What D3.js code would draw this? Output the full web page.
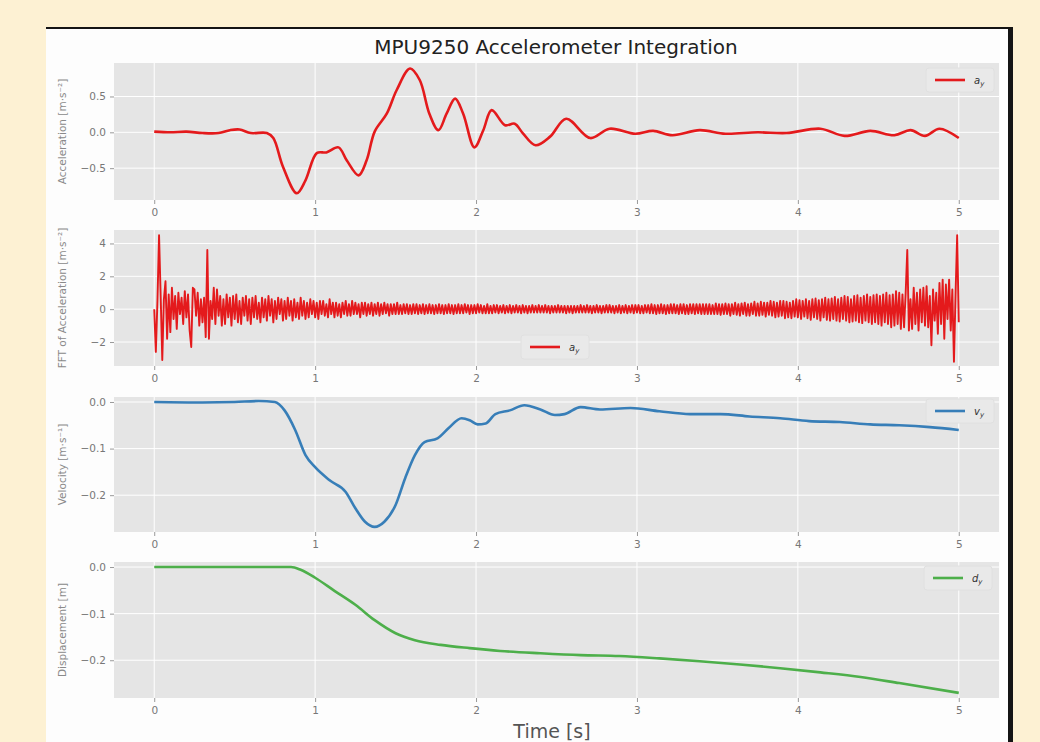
<!DOCTYPE html>
<html><head><meta charset="utf-8">
<script src="https://cdn.jsdelivr.net/npm/d3@7"></script>
<style>
html,body{margin:0;padding:0;background:#fdf1d3;}
svg{display:block;font-family:"DejaVu Sans",sans-serif;}
</style></head>
<body><svg id="c" width="1040" height="742"></svg>
<script>
// ---------- DATA ----------
const titleText = "MPU9250 Accelerometer Integration";
const xLabel = "Time [s]";
const xTicks = [0, 1, 2, 3, 4, 5];

const accTime = [0,0.1,0.2,0.3,0.4,0.47,0.53,0.6,0.7,0.74,0.80,0.886,0.94,1.01,1.07,1.145,1.196,1.27,1.32,1.37,1.445,1.507,1.59,1.65,1.71,1.766,1.817,1.87,1.92,1.99,2.045,2.097,2.18,2.24,2.29,2.37,2.46,2.56,2.71,2.83,2.99,3.1,3.22,3.39,3.55,3.75,3.93,4.14,4.29,4.45,4.6,4.7,4.79,4.88,5.0];
const accY = [0.01,0.0,0.01,-0.01,-0.01,0.03,0.04,-0.01,-0.01,-0.08,-0.48,-0.85,-0.67,-0.29,-0.28,-0.21,-0.39,-0.60,-0.39,0.01,0.26,0.59,0.89,0.73,0.26,0.03,0.26,0.47,0.26,-0.21,0.03,0.31,0.10,0.12,-0.01,-0.18,-0.06,0.19,-0.08,0.05,-0.02,0.02,-0.04,0.03,-0.02,0.0,-0.01,0.05,-0.05,0.02,-0.04,0.03,-0.05,0.05,-0.08];

const fftStep = 0.01;
const fftY = [
0.0,-2.6,0.5,4.5,0.8,-3.1,0.6,1.7,-1.8,0.9,
-1.4,1.3,-0.6,0.8,-1.2,1.0,-0.3,0.7,-0.9,1.1,
-0.5,0.9,-1.3,-2.3,1.3,1.2,-0.4,1.0,-1.0,0.6,
-0.8,0.7,-1.7,3.6,-1.8,0.5,-0.6,1.3,-0.9,1.2,
-0.4,0.8,-1.0,0.6,-0.9,0.9,-0.5,0.7,-1.0,0.8,
-0.6,0.9,-0.8,0.5,-0.9,0.7,-0.4,0.8,-0.7,0.6,
-0.9,0.7,-0.5,0.8,-0.6,0.4,-0.8,0.7,-0.5,0.6,
-0.7,0.8,-0.4,0.6,-0.8,0.5,-0.6,0.7,-0.3,0.6,
-0.7,0.5,-0.6,0.7,-0.4,0.5,-0.7,0.6,-0.5,0.4,
-0.6,0.7,-0.4,0.5,-0.6,0.4,-0.5,0.6,-0.3,0.5,
-0.5,0.4,-0.6,0.5,-0.3,0.5,-0.4,0.3,-0.5,0.6,
-0.3,0.4,-0.5,0.4,-0.4,0.3,-0.5,0.4,-0.3,0.5,
-0.4,0.3,-0.4,0.5,-0.3,0.4,-0.3,0.3,-0.5,0.4,
-0.3,0.4,-0.4,0.3,-0.3,0.4,-0.4,0.3,-0.3,0.4,
-0.4,0.3,-0.3,0.4,-0.25,0.3,-0.4,0.3,-0.3,0.3,
-0.3,0.4,-0.3,0.25,-0.3,0.3,-0.25,0.3,-0.3,0.25,
-0.3,0.3,-0.25,0.3,-0.3,0.25,-0.25,0.3,-0.3,0.25,
-0.25,0.3,-0.25,0.25,-0.3,0.25,-0.25,0.3,-0.25,0.25,
-0.3,0.25,-0.25,0.3,-0.25,0.25,-0.3,0.25,-0.25,0.3,
-0.25,0.25,-0.25,0.3,-0.2,0.25,-0.3,0.25,-0.25,0.25,
-0.25,0.3,-0.2,0.25,-0.25,0.2,-0.25,0.3,-0.25,0.2,
-0.25,0.25,-0.2,0.25,-0.25,0.2,-0.2,0.25,-0.25,0.2,
-0.2,0.25,-0.25,0.2,-0.2,0.25,-0.2,0.2,-0.25,0.25,
-0.2,0.2,-0.25,0.2,-0.2,0.25,-0.2,0.2,-0.2,0.25,
-0.2,0.2,-0.2,0.25,-0.2,0.2,-0.25,0.2,-0.2,0.2,
-0.2,0.25,-0.2,0.2,-0.2,0.2,-0.25,0.2,-0.2,0.2,
-0.25,0.2,-0.2,0.2,-0.2,0.25,-0.2,0.2,-0.2,0.25,
-0.2,0.2,-0.25,0.2,-0.2,0.25,-0.2,0.2,-0.25,0.2,
-0.2,0.25,-0.2,0.25,-0.2,0.2,-0.25,0.2,-0.2,0.25,
-0.25,0.2,-0.2,0.25,-0.25,0.2,-0.2,0.25,-0.25,0.25,
-0.2,0.25,-0.25,0.2,-0.25,0.25,-0.2,0.25,-0.25,0.3,
-0.25,0.25,-0.3,0.25,-0.25,0.3,-0.25,0.25,-0.3,0.25,
-0.25,0.3,-0.25,0.3,-0.25,0.25,-0.3,0.3,-0.25,0.3,
-0.3,0.25,-0.3,0.3,-0.25,0.3,-0.3,0.3,-0.25,0.3,
-0.3,0.3,-0.3,0.3,-0.3,0.3,-0.3,0.25,-0.3,0.35,
-0.3,0.3,-0.35,0.3,-0.3,0.35,-0.3,0.3,-0.4,0.3,
-0.3,0.4,-0.35,0.3,-0.4,0.35,-0.3,0.4,-0.4,0.3,
-0.4,0.35,-0.3,0.45,-0.4,0.35,-0.4,0.45,-0.35,0.4,
-0.45,0.4,-0.35,0.5,-0.4,0.45,-0.5,0.4,-0.45,0.5,
-0.4,0.5,-0.55,0.45,-0.5,0.4,-0.55,0.5,-0.45,0.6,
-0.5,0.55,-0.6,0.5,-0.45,0.6,-0.55,0.5,-0.65,0.6,
-0.5,0.65,-0.6,0.55,-0.7,0.6,-0.5,0.7,-0.65,0.6,
-0.7,0.65,-0.6,0.75,-0.7,0.6,-0.75,0.7,-0.6,0.8,
-0.7,0.75,-0.8,0.6,-0.75,0.8,-0.7,0.85,-0.8,0.7,
-0.85,0.8,-0.7,0.9,-0.8,0.75,-0.9,0.85,-0.8,0.9,
-0.9,0.8,-1.0,0.9,-0.8,1.0,-0.9,0.85,-1.1,0.9,
-1.0,1.1,-0.9,1.0,-1.2,0.9,-1.1,1.0,3.6,-1.3,
0.6,-1.2,1.3,-0.9,1.0,-1.3,1.2,-0.8,1.3,-1.0,
1.4,-1.1,0.8,-2.2,1.2,-0.7,1.0,-1.5,1.6,-0.9,
1.8,-1.8,1.5,-0.6,1.8,-1.3,1.2,-3.2,0.9,4.5,
-0.8];

const velTime = [0,0.3,0.5,0.65,0.75,0.81,0.876,0.94,1.0,1.09,1.19,1.25,1.31,1.37,1.43,1.5,1.56,1.62,1.68,1.76,1.83,1.91,1.96,2.01,2.06,2.12,2.21,2.30,2.40,2.49,2.55,2.65,2.77,2.96,3.14,3.33,3.52,3.70,3.89,4.07,4.26,4.45,4.63,4.82,5.0];
const velY = [0.0,-0.001,0.0,0.002,0.0,-0.018,-0.06,-0.114,-0.14,-0.168,-0.193,-0.228,-0.257,-0.268,-0.257,-0.221,-0.163,-0.114,-0.086,-0.078,-0.056,-0.035,-0.039,-0.048,-0.046,-0.026,-0.018,-0.007,-0.016,-0.028,-0.026,-0.011,-0.016,-0.013,-0.02,-0.026,-0.026,-0.031,-0.035,-0.041,-0.043,-0.048,-0.050,-0.054,-0.06];

const dispTime = [0,0.4,0.85,0.91,1.0,1.12,1.25,1.37,1.5,1.62,1.78,1.96,2.15,2.40,2.65,2.89,3.14,3.39,3.64,3.89,4.14,4.39,4.63,5.0];
const dispY = [0,0,0,-0.006,-0.023,-0.051,-0.081,-0.114,-0.142,-0.157,-0.167,-0.174,-0.180,-0.185,-0.189,-0.191,-0.196,-0.202,-0.209,-0.217,-0.226,-0.236,-0.249,-0.270];

const panelLabels = ["Acceleration [m·s⁻²]","FFT of Acceleration [m·s⁻²]","Velocity [m·s⁻¹]","Displacement [m]"];
const legendNames = [["a","y"],["a","y"],["v","y"],["d","y"]];
const yTicks1 = [-0.5, 0.0, 0.5];
const yTicks2 = [-2, 0, 2, 4];
const yTicks3 = [-0.2, -0.1, 0.0];
const yTicks4 = [-0.2, -0.1, 0.0];

// ---------- DRAW ----------
const svg = d3.select("#c");
svg.append("rect").attr("x",46).attr("y",27).attr("width",967).attr("height",715).attr("fill","#141414");
svg.append("rect").attr("x",46).attr("y",29).attr("width",962).attr("height",713).attr("fill","#fdfdfd");

svg.append("text").attr("x",556).attr("y",54).attr("text-anchor","middle")
  .attr("font-size",20).attr("fill","#222").text(titleText);

const x = d3.scaleLinear().domain([-0.25,5.25]).range([114,999]);

const panels = [
  {top:63,bot:200,dom:[-0.944,0.967],ticks:yTicks1,fmt:d3.format(".1f"),xs:accTime,ys:accY,color:"#e41a1c",lw:2.6,curve:d3.curveCatmullRom,leg:{x:935,y:80}},
  {top:230,bot:366,dom:[-3.46,4.82],ticks:yTicks2,fmt:d3.format("d"),xs:fftY.map((_,i)=>i*fftStep),ys:fftY,color:"#e41a1c",lw:1.9,curve:d3.curveLinear,leg:{x:530,y:347}},
  {top:397,bot:532,dom:[-0.279,0.0107],ticks:yTicks3,fmt:d3.format(".1f"),xs:velTime,ys:velY,color:"#377eb8",lw:2.6,curve:d3.curveMonotoneX,leg:{x:935,y:411}},
  {top:562,bot:698,dom:[-0.281,0.0108],ticks:yTicks4,fmt:d3.format(".1f"),xs:dispTime,ys:dispY,color:"#4daf4a",lw:2.6,curve:d3.curveMonotoneX,leg:{x:933,y:578}}
];

panels.forEach((p,k)=>{
  const y = d3.scaleLinear().domain(p.dom).range([p.bot,p.top]);
  const g = svg.append("g");
  g.append("rect").attr("x",x.range()[0]).attr("y",p.top).attr("width",x.range()[1]-x.range()[0]).attr("height",p.bot-p.top).attr("fill","#e5e5e5");
  g.selectAll(".vg").data(xTicks).enter().append("line")
    .attr("x1",d=>x(d)).attr("x2",d=>x(d)).attr("y1",p.top).attr("y2",p.bot)
    .attr("stroke","#fff").attr("stroke-width",1);
  g.selectAll(".hg").data(p.ticks).enter().append("line")
    .attr("x1",x.range()[0]).attr("x2",x.range()[1]).attr("y1",d=>y(d)).attr("y2",d=>y(d))
    .attr("stroke","#fff").attr("stroke-width",1);
  const xa = d3.axisBottom(x).tickValues(xTicks).tickSize(4).tickPadding(5).tickFormat(d3.format("d"));
  const xg = g.append("g").attr("transform",`translate(0,${p.bot})`).call(xa);
  const ya = d3.axisLeft(y).tickValues(p.ticks).tickSize(4).tickPadding(4)
    .tickFormat(d=>p.fmt(d).replace("-","−"));
  const yg = g.append("g").attr("transform",`translate(${x.range()[0]},0)`).call(ya);
  [xg,yg].forEach(a=>{
    a.select(".domain").remove();
    a.selectAll(".tick line").attr("stroke","#999");
    a.selectAll(".tick text").attr("fill","#777").attr("font-size",10.5).attr("font-family","DejaVu Sans");
  });
  g.append("text").attr("transform",`translate(66,${(p.top+p.bot)/2}) rotate(-90)`)
    .attr("text-anchor","middle").attr("font-size",10.5).attr("fill","#8a8a8a").text(panelLabels[k]);
  const data = p.xs.map((t,i)=>[t,p.ys[i]]);
  const line = d3.line().x(d=>x(d[0])).y(d=>y(d[1])).curve(p.curve);
  g.append("path").datum(data).attr("d",line).attr("fill","none")
    .attr("stroke",p.color).attr("stroke-width",p.lw).attr("stroke-linejoin","round");
  const L = p.leg;
  g.append("rect").attr("x",L.x-9).attr("y",L.y-12).attr("width",68).attr("height",24).attr("rx",3)
    .attr("fill","#e9e9e9").attr("stroke","#e0e0e0");
  g.append("line").attr("x1",L.x).attr("x2",L.x+30).attr("y1",L.y).attr("y2",L.y)
    .attr("stroke",p.color).attr("stroke-width",2.6);
  const lt = g.append("text").attr("x",L.x+39).attr("y",L.y+3.5).attr("font-size",10).attr("fill","#333");
  lt.append("tspan").attr("font-style","italic").text(legendNames[k][0]);
  lt.append("tspan").attr("font-style","italic").attr("font-size",7).attr("dy",2.5).text(legendNames[k][1]);
});

svg.append("text").attr("x",552).attr("y",738).attr("text-anchor","middle")
  .attr("font-size",19).attr("fill","#555").text(xLabel);
</script>
</body></html>
